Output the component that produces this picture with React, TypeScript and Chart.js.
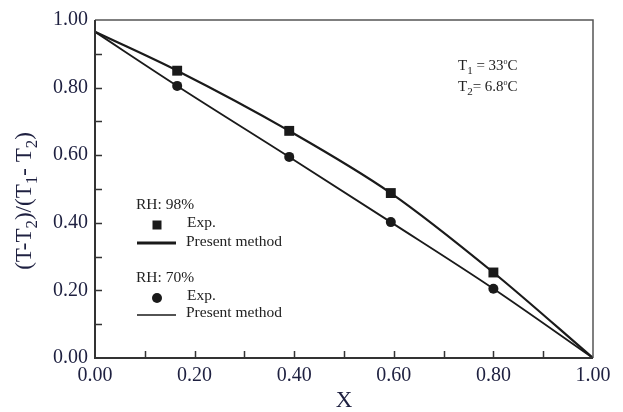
import React, { useEffect, useRef } from "react";
import { Chart, registerables } from "chart.js";

Chart.register(...registerables);

// Model curves ("Present method")
const curveX = [0, 0.165, 0.39, 0.594, 0.8, 1.0];
const curve98 = [0.965, 0.85, 0.672, 0.488, 0.253, 0.0];
const curve70 = [0.965, 0.805, 0.595, 0.402, 0.205, 0.0];

// Experimental points
const expX = [0.165, 0.39, 0.594, 0.8];
const exp98 = [0.85, 0.672, 0.488, 0.253];
const exp70 = [0.805, 0.595, 0.402, 0.205];

const SERIF = "'Liberation Serif', 'Times New Roman', serif";
const INK = "#1a1a1a";
const LABEL = "#1e2040";

type Seg = [string, "n" | "sub" | "sup"];

function segFont(size: number, kind: string) {
  const s = kind === "n" ? size : kind === "sub" ? Math.round(size * 0.72) : Math.round(size * 0.55);
  return `${s}px ${SERIF}`;
}

function richWidth(ctx: CanvasRenderingContext2D, segs: Seg[], size: number) {
  let w = 0;
  for (const [t, k] of segs) {
    ctx.font = segFont(size, k);
    w += ctx.measureText(t).width;
  }
  return w;
}

function drawRich(
  ctx: CanvasRenderingContext2D,
  segs: Seg[],
  x: number,
  y: number,
  size: number,
  align: "left" | "center"
) {
  ctx.textBaseline = "alphabetic";
  ctx.textAlign = "left";
  let cx = align === "center" ? x - richWidth(ctx, segs, size) / 2 : x;
  for (const [t, k] of segs) {
    ctx.font = segFont(size, k);
    const dy = k === "sub" ? size * 0.25 : k === "sup" ? -size * 0.38 : 0;
    ctx.fillText(t, cx, y + dy);
    cx += ctx.measureText(t).width;
  }
}

const yTitle: Seg[] = [
  ["(T-T", "n"],
  ["2", "sub"],
  [")/(T", "n"],
  ["1", "sub"],
  ["- T", "n"],
  ["2", "sub"],
  [")", "n"],
];
const note1: Seg[] = [["T", "n"], ["1", "sub"], [" = 33", "n"], ["o", "sup"], ["C", "n"]];
const note2: Seg[] = [["T", "n"], ["2", "sub"], ["= 6.8", "n"], ["o", "sup"], ["C", "n"]];

const decorPlugin = {
  id: "decor",
  afterDraw(chart: any) {
    const ctx: CanvasRenderingContext2D = chart.ctx;
    const { left, right, top, bottom } = chart.chartArea;
    const xs = chart.scales.x;
    const ys = chart.scales.y;
    ctx.save();

    // inward ticks
    ctx.strokeStyle = "#333";
    ctx.lineWidth = 1.5;
    ctx.beginPath();
    for (let i = 1; i < 10; i++) {
      const px = Math.round(xs.getPixelForValue(i / 10)) + 0.5;
      ctx.moveTo(px, bottom);
      ctx.lineTo(px, bottom - 7);
      const py = Math.round(ys.getPixelForValue(i / 10)) + 0.5;
      ctx.moveTo(left, py);
      ctx.lineTo(left + 7, py);
    }
    ctx.stroke();

    // frame: top & right thinner
    ctx.strokeStyle = "#555";
    ctx.lineWidth = 1.5;
    ctx.beginPath();
    ctx.moveTo(left, top);
    ctx.lineTo(right, top);
    ctx.lineTo(right, bottom);
    ctx.stroke();
    ctx.strokeStyle = "#333";
    ctx.lineWidth = 2;
    ctx.beginPath();
    ctx.moveTo(left, top);
    ctx.lineTo(left, bottom);
    ctx.lineTo(right, bottom);
    ctx.stroke();

    // axis titles
    ctx.fillStyle = LABEL;
    ctx.font = `23px ${SERIF}`;
    ctx.textAlign = "center";
    ctx.textBaseline = "alphabetic";
    ctx.fillText("X", (left + right) / 2, 407);

    ctx.save();
    ctx.translate(31, 201);
    ctx.rotate(-Math.PI / 2);
    drawRich(ctx, yTitle, 0, 0, 23, "center");
    ctx.restore();

    // annotation
    ctx.fillStyle = "#222";
    drawRich(ctx, note1, 458, 70, 15, "left");
    drawRich(ctx, note2, 458, 91, 15, "left");

    // legend
    ctx.fillStyle = "#222";
    ctx.font = `15.5px ${SERIF}`;
    ctx.textAlign = "left";
    ctx.textBaseline = "middle";
    ctx.fillText("RH: 98%", 136, 205);
    ctx.fillText("Exp.", 187, 223);
    ctx.fillText("Present method", 186, 242);
    ctx.fillText("RH: 70%", 136, 278);
    ctx.fillText("Exp.", 187, 296);
    ctx.fillText("Present method", 186, 313);

    ctx.fillStyle = INK;
    ctx.fillRect(152.5, 220.5, 9, 9);
    ctx.beginPath();
    ctx.arc(157, 298, 5, 0, Math.PI * 2);
    ctx.fill();

    ctx.strokeStyle = INK;
    ctx.lineWidth = 3;
    ctx.beginPath();
    ctx.moveTo(137, 243);
    ctx.lineTo(176, 243);
    ctx.stroke();
    ctx.lineWidth = 1.5;
    ctx.beginPath();
    ctx.moveTo(137, 315);
    ctx.lineTo(176, 315);
    ctx.stroke();

    ctx.restore();
  },
};

function tickLabel(v: number | string) {
  const k = Math.round(Number(v) * 10);
  return k % 2 === 0 ? (k / 10).toFixed(2) : "";
}

export default function App() {
  const ref = useRef<HTMLCanvasElement>(null);

  useEffect(() => {
    if (!ref.current) return;
    const pts = (xs: number[], ys: number[]) => xs.map((x, i) => ({ x, y: ys[i] }));
    const chart = new Chart(ref.current, {
      type: "line",
      data: {
        datasets: [
          {
            label: "RH 98% Present method",
            data: pts(curveX, curve98),
            borderColor: INK,
            borderWidth: 2.2,
            pointRadius: 0,
            cubicInterpolationMode: "monotone",
            fill: false,
          },
          {
            label: "RH 70% Present method",
            data: pts(curveX, curve70),
            borderColor: INK,
            borderWidth: 1.8,
            pointRadius: 0,
            cubicInterpolationMode: "monotone",
            fill: false,
          },
          {
            label: "RH 98% Exp.",
            data: pts(expX, exp98),
            showLine: false,
            pointStyle: "rect",
            pointRadius: 7,
            backgroundColor: INK,
            borderColor: INK,
            borderWidth: 0,
          },
          {
            label: "RH 70% Exp.",
            data: pts(expX, exp70),
            showLine: false,
            pointStyle: "circle",
            pointRadius: 5,
            backgroundColor: INK,
            borderColor: INK,
            borderWidth: 0,
          },
        ],
      } as any,
      options: {
        animation: false,
        responsive: false,
        layout: { padding: { top: 20, right: 30, left: 0, bottom: 0 } },
        plugins: { legend: { display: false }, tooltip: { enabled: false } },
        scales: {
          x: {
            type: "linear",
            min: 0,
            max: 1,
            grid: { display: false, drawTicks: false },
            border: { display: false },
            ticks: {
              stepSize: 0.1,
              autoSkip: false,
              maxRotation: 0,
              padding: 6,
              color: LABEL,
              font: { family: SERIF, size: 20 },
              callback: tickLabel,
            },
            afterFit: (s: any) => {
              s.height = 54;
            },
          },
          y: {
            type: "linear",
            min: 0,
            max: 1,
            grid: { display: false, drawTicks: false },
            border: { display: false },
            ticks: {
              stepSize: 0.1,
              autoSkip: false,
              padding: 7,
              color: LABEL,
              font: { family: SERIF, size: 20 },
              callback: tickLabel,
            },
            afterFit: (s: any) => {
              s.width = 95;
            },
          },
        },
      } as any,
      plugins: [decorPlugin],
    });
    return () => chart.destroy();
  }, []);

  return (
    <div style={{ position: "absolute", left: 0, top: 0, width: 623, height: 412, background: "#fff" }}>
      <canvas ref={ref} width={623} height={412} />
    </div>
  );
}
